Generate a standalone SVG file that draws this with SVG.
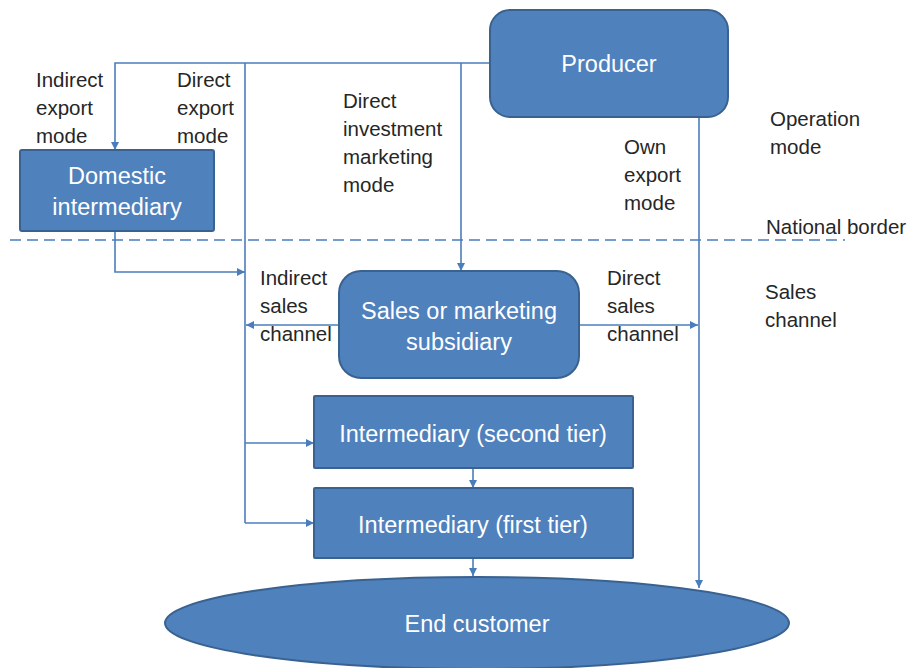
<svg xmlns="http://www.w3.org/2000/svg" width="917" height="668" viewBox="0 0 917 668">
<style>
.node{fill:#4F81BD;stroke:#3A6290;stroke-width:2}
.nt{font-family:"Liberation Sans",Arial,sans-serif;font-size:23.5px;fill:#ffffff;text-anchor:middle}
.lbl{font-family:"Liberation Sans",Arial,sans-serif;font-size:20.5px;fill:#262626}
.ln{fill:none;stroke:#4A7EBB;stroke-width:1.6}
.dash{fill:none;stroke:#4A7EBB;stroke-width:1.6;stroke-dasharray:11 6}
</style>
<defs>
<marker id="ah" viewBox="0 0 10 10" refX="10" refY="5" markerWidth="8" markerHeight="8" markerUnits="userSpaceOnUse" orient="auto">
<path d="M0,0 L10,5 L0,10 z" fill="#4A7EBB"/>
</marker>
</defs>
<rect width="917" height="668" fill="#ffffff"/>

<g id="connectors">
<line class="dash" x1="10" y1="240" x2="845" y2="240"/>
<polyline class="ln" points="490,63 115,63 115,150" marker-end="url(#ah)"/>
<line class="ln" x1="245" y1="63" x2="245" y2="523"/>
<line class="ln" x1="461" y1="63" x2="461" y2="271" marker-end="url(#ah)"/>
<polyline class="ln" points="115,231 115,272 245,272" marker-end="url(#ah)"/>
<line class="ln" x1="339" y1="325" x2="246" y2="325" marker-end="url(#ah)"/>
<line class="ln" x1="579" y1="325" x2="698" y2="325" marker-end="url(#ah)"/>
<line class="ln" x1="699" y1="117" x2="699" y2="588" marker-end="url(#ah)"/>
<line class="ln" x1="245" y1="443" x2="314" y2="443" marker-end="url(#ah)"/>
<line class="ln" x1="245" y1="523" x2="314" y2="523" marker-end="url(#ah)"/>
<line class="ln" x1="473" y1="468" x2="473" y2="488" marker-end="url(#ah)"/>
<line class="ln" x1="473" y1="558" x2="473" y2="576" marker-end="url(#ah)"/>
</g>

<g id="producer">
<rect class="node" x="490" y="10" width="238" height="107" rx="20"/>
<text class="nt" x="609" y="72">Producer</text>
</g>
<g id="domestic-intermediary">
<rect class="node" x="20" y="150" width="194" height="81" rx="2"/>
<text class="nt" x="117" y="184">Domestic</text>
<text class="nt" x="117" y="215">intermediary</text>
</g>
<g id="sales-subsidiary">
<rect class="node" x="339" y="271" width="240" height="107" rx="22"/>
<text class="nt" x="459" y="319">Sales or marketing</text>
<text class="nt" x="459" y="350">subsidiary</text>
</g>
<g id="intermediary-second">
<rect class="node" x="314" y="396" width="319" height="72" rx="1"/>
<text class="nt" x="473" y="442">Intermediary (second tier)</text>
</g>
<g id="intermediary-first">
<rect class="node" x="314" y="488" width="319" height="70" rx="1"/>
<text class="nt" x="473" y="533">Intermediary (first tier)</text>
</g>
<g id="end-customer">
<ellipse class="node" cx="477" cy="623" rx="312" ry="46"/>
<text class="nt" x="477" y="632">End customer</text>
</g>

<g id="labels">
<text class="lbl" x="36" y="87">Indirect</text>
<text class="lbl" x="36" y="115">export</text>
<text class="lbl" x="36" y="143">mode</text>
<text class="lbl" x="177" y="87">Direct</text>
<text class="lbl" x="177" y="115">export</text>
<text class="lbl" x="177" y="143">mode</text>
<text class="lbl" x="343" y="108">Direct</text>
<text class="lbl" x="343" y="136">investment</text>
<text class="lbl" x="343" y="164">marketing</text>
<text class="lbl" x="343" y="192">mode</text>
<text class="lbl" x="624" y="154">Own</text>
<text class="lbl" x="624" y="182">export</text>
<text class="lbl" x="624" y="210">mode</text>
<text class="lbl" x="770" y="126">Operation</text>
<text class="lbl" x="770" y="154">mode</text>
<text class="lbl" x="766" y="234">National border</text>
<text class="lbl" x="260" y="285">Indirect</text>
<text class="lbl" x="260" y="313">sales</text>
<text class="lbl" x="260" y="341">channel</text>
<text class="lbl" x="607" y="285">Direct</text>
<text class="lbl" x="607" y="313">sales</text>
<text class="lbl" x="607" y="341">channel</text>
<text class="lbl" x="765" y="299">Sales</text>
<text class="lbl" x="765" y="327">channel</text>
</g>
</svg>
